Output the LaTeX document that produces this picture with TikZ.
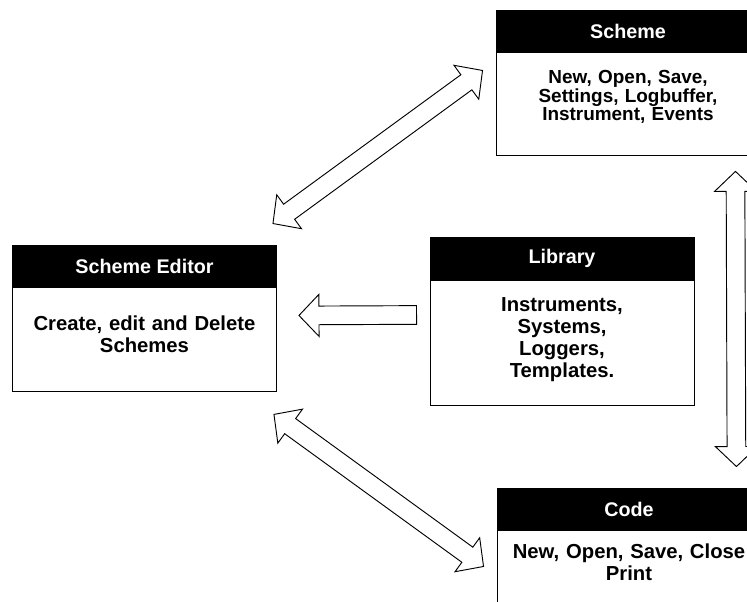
\documentclass[tikz,border=0pt]{standalone}
\usepackage{fontspec}
\setmainfont{Liberation Sans}
\usetikzlibrary{positioning, calc}

% hollow block arrows between two named points
\newcommand{\dblarrow}[2]{%
  \draw[blockarrow] (#1)
    -- ($(#1)!15pt!(#2)!15.75pt!90:(#2)$)
    -- ($(#1)!15pt!(#2)!7pt!90:(#2)$)
    -- ($(#2)!15pt!(#1)!7pt!-90:(#1)$)
    -- ($(#2)!15pt!(#1)!15.75pt!-90:(#1)$)
    -- (#2)
    -- ($(#2)!15pt!(#1)!15.75pt!90:(#1)$)
    -- ($(#2)!15pt!(#1)!7pt!90:(#1)$)
    -- ($(#1)!15pt!(#2)!7pt!-90:(#2)$)
    -- ($(#1)!15pt!(#2)!15.75pt!-90:(#2)$)
    -- cycle;}
\newcommand{\sglarrow}[2]{%
  \draw[blockarrow] (#1)
    -- ($(#1)!15pt!(#2)!15.75pt!90:(#2)$)
    -- ($(#1)!15pt!(#2)!7pt!90:(#2)$)
    -- ($(#2)!7pt!-90:(#1)$)
    -- ($(#2)!7pt!90:(#1)$)
    -- ($(#1)!15pt!(#2)!7pt!-90:(#2)$)
    -- ($(#1)!15pt!(#2)!15.75pt!-90:(#2)$)
    -- cycle;}

\begin{document}
\begin{tikzpicture}[
    x=0.75pt, y=-0.75pt,
    hdr/.style={rectangle, draw, fill=black, text=white, minimum width=198pt, minimum height=31.5pt, inner sep=0pt, font=\bfseries\fontsize{14.8}{16}\selectfont},
    body/.style={rectangle, draw, fill=white, text width=198pt, inner sep=0pt, align=center, font=\bfseries\fontsize{15.2}{16.5}\selectfont},
    blockarrow/.style={draw, fill=white, line width=0.7pt, line join=miter},
    every node/.append style={line width=0.7pt},
]
\useasboundingbox (0,0) rectangle (747,601);
\clip (0,0) rectangle (747,601);

\node[hdr] (schemeH) at (628, 31) {Scheme};
\node[body, below=0pt of schemeH, text height=23.25pt, text depth=54pt,
      font=\bfseries\fontsize{14.2}{13.7}\selectfont\setlength{\lineskiplimit}{-20pt}] (scheme)
      {New, Open, Save,\\ Settings, Logbuffer,\\ Instrument, Events};

\node[hdr] (editorH) at (144.5, 266) {Scheme Editor};
\node[body, below=0pt of editorH, text height=32.25pt, text depth=45.75pt] (editor)
      {Create, edit and Delete\\ Schemes};

\node[hdr] (libraryH) at (562, 258.5) {Library};
\node[body, below=0pt of libraryH, text height=23.25pt, text depth=70.5pt] (library)
      {Instruments,\\ Systems,\\ Loggers,\\ Templates.};

\node[hdr] (codeH) at (629, 509) {Code};
\node[body, below=0pt of codeH, text height=21pt, text depth=57pt] (code)
      {New, Open, Save, Close\\ Print};

% arrow ends
\coordinate (es) at ($(editorH.north east)+(-4,-21)$);
\coordinate (se) at ($(schemeH.south west)+(-13,18)$);
\coordinate (ec) at ($(editor.south east)+(-3,22)$);
\coordinate (ce) at ($(codeH.south west)+(-13,36)$);
\coordinate (el) at ($(editor.north east)+(22,28)$);
\coordinate (le) at ($(library.north west)+(-13,35)$);
\coordinate (sc) at ($(scheme.south east)+(-25,15)$);
\coordinate (cs) at ($(codeH.north east)+(-25,-21)$);

\dblarrow{es}{se}
\dblarrow{ec}{ce}
\sglarrow{el}{le}
\dblarrow{sc}{cs}

\end{tikzpicture}
\end{document}
